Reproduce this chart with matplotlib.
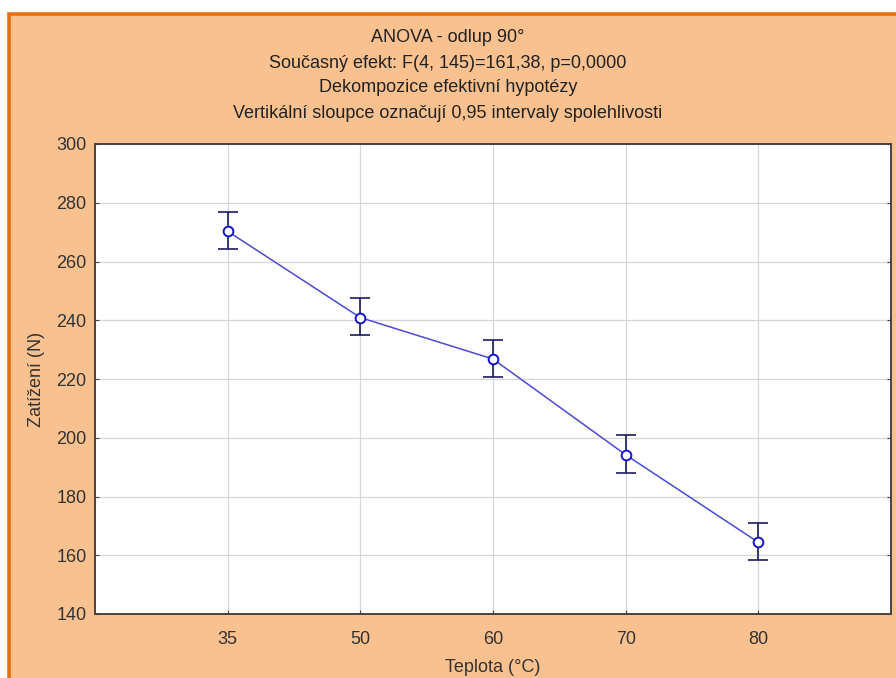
import matplotlib
matplotlib.use("Agg")
import matplotlib.pyplot as plt
from matplotlib.patches import Rectangle

# values
temps = ["35", "50", "60", "70", "80"]
means = [270.3, 240.9, 226.8, 194.2, 164.4]
ci_low = [264.1, 235.0, 220.7, 187.9, 158.3]
ci_high = [276.9, 247.6, 233.4, 201.0, 170.9]
y_ticks = [140, 160, 180, 200, 220, 240, 260, 280, 300]
title_lines = [
    "ANOVA - odlup 90°",
    "Současný efekt: F(4, 145)=161,38, p=0,0000",
    "Dekompozice efektivní hypotézy",
    "Vertikální sloupce označují 0,95 intervaly spolehlivosti",
]

plt.rcParams["font.family"] = ["Liberation Sans", "DejaVu Sans"]
FS = 13

W, H = 896, 678
fig = plt.figure(figsize=(W / 100, H / 100), dpi=100, facecolor="white")

# peach panel with orange frame, cut off at right and bottom like the screenshot
fig.patches.append(Rectangle((8.5 / W, -0.1), 1.2, (H - 14.5) / H + 0.1,
                             transform=fig.transFigure, facecolor="#F9C18F",
                             edgecolor="#E8700E", linewidth=2.6, zorder=-5))

ax = fig.add_axes([95 / W, (H - 614) / H, (891 - 95) / W, (614 - 144) / H])
ax.set_facecolor("white")

x = list(range(1, len(temps) + 1))
err = [[m - lo for m, lo in zip(means, ci_low)],
       [hi - m for m, hi in zip(means, ci_high)]]
ax.errorbar(x, means, yerr=err, fmt="none", ecolor="#1b1b5e",
            elinewidth=1.2, capsize=7, capthick=1.2, zorder=3)
ax.plot(x, means, color="#4a4ad0", linewidth=1.1, zorder=4)
ax.plot(x, means, linestyle="none", marker="o", markersize=7,
        markerfacecolor="white", markeredgecolor="#1515c8",
        markeredgewidth=1.4, zorder=5)

ax.set_xlim(0, len(temps) + 1)
ax.set_ylim(140, 300)
ax.set_xticks(x)
ax.set_xticklabels(temps)
ax.set_yticks(y_ticks)
ax.grid(True, color="#d6d6d6", linewidth=0.9)
ax.set_axisbelow(True)
for s in ax.spines.values():
    s.set_color("#4a4040")
    s.set_linewidth(1.4)
ax.tick_params(axis="both", direction="in", length=3, color="#4a4040",
               labelsize=FS, labelcolor="#333333", top=False, right=True)
ax.tick_params(axis="x", pad=12)
ax.tick_params(axis="y", pad=6)

ax.set_xlabel("Teplota (°C)", fontsize=FS, color="#333333", labelpad=8)
ax.set_ylabel("Zatížení (N)", fontsize=FS, color="#333333", labelpad=8)

for i, line in enumerate(title_lines):
    fig.text(0.5, 1 - (38 + 25 * i) / H, line, ha="center", va="center",
             fontsize=FS, color="#222222")

fig.savefig("out.png", dpi=100, facecolor=fig.get_facecolor())
